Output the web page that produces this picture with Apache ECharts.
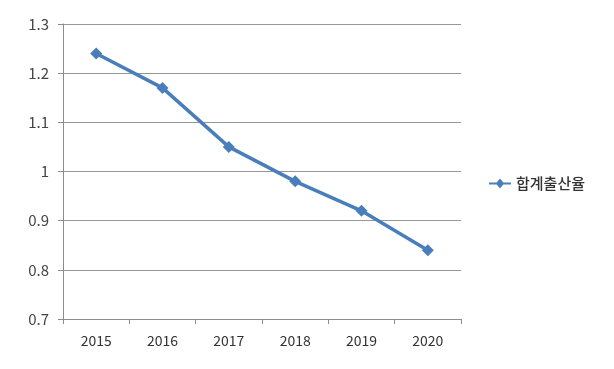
<!DOCTYPE html>
<html><head><meta charset="utf-8">
<script src="https://cdn.jsdelivr.net/npm/echarts@6/dist/echarts.min.js"></script>
<style>html,body{margin:0;padding:0;background:#fff}#c{width:614px;height:369px}</style>
</head><body><div id="c"></div>
<script>
const categories = ['2015','2016','2017','2018','2019','2020'];
const seriesName = '합계출산율';
const values = [1.24, 1.17, 1.05, 0.98, 0.92, 0.84];
const yMin = 0.7, yMax = 1.3, yStep = 0.1;

const chart = echarts.init(document.getElementById('c'));
const font = '"Noto Sans CJK KR", "Noto Sans", sans-serif';
chart.setOption({
  animation: false,
  backgroundColor: '#fff',
  grid: {left: 63, right: 153, top: 24, bottom: 50},
  legend: {
    data: [{name: seriesName, icon: 'path://M0,4 L7,4 L10,0.5 L13,4 L20,4 L20,6 L13,6 L10,9.5 L7,6 L0,6 Z'}],
    orient: 'vertical', left: 484, top: 171,
    itemWidth: 22, itemHeight: 11, itemGap: 6,
    textStyle: {fontFamily: font, fontSize: 15, fontWeight: 500, color: '#333'}
  },
  xAxis: {
    type: 'category', data: categories, boundaryGap: true,
    axisLine: {lineStyle: {color: '#8c8c8c', width: 1}},
    axisTick: {show: true, length: 5, lineStyle: {color: '#8c8c8c'}},
    axisLabel: {fontFamily: font, fontSize: 14, color: '#333', margin: 15}
  },
  yAxis: {
    type: 'value', min: yMin, max: yMax, interval: yStep,
    axisLine: {show: true, lineStyle: {color: '#8c8c8c', width: 1}},
    axisTick: {show: true, length: 5, lineStyle: {color: '#8c8c8c'}},
    splitLine: {lineStyle: {color: '#969696', width: 1}},
    axisLabel: {fontFamily: font, fontSize: 15, color: '#444', margin: 14,
      formatter: v => String(Math.round(v * 10) / 10)}
  },
  series: [{
    name: seriesName, type: 'line', data: values,
    symbol: 'diamond', symbolSize: 12,
    lineStyle: {color: '#4a7ebb', width: 3.5},
    itemStyle: {color: '#4a7ebb'}
  }]
});
</script></body></html>
